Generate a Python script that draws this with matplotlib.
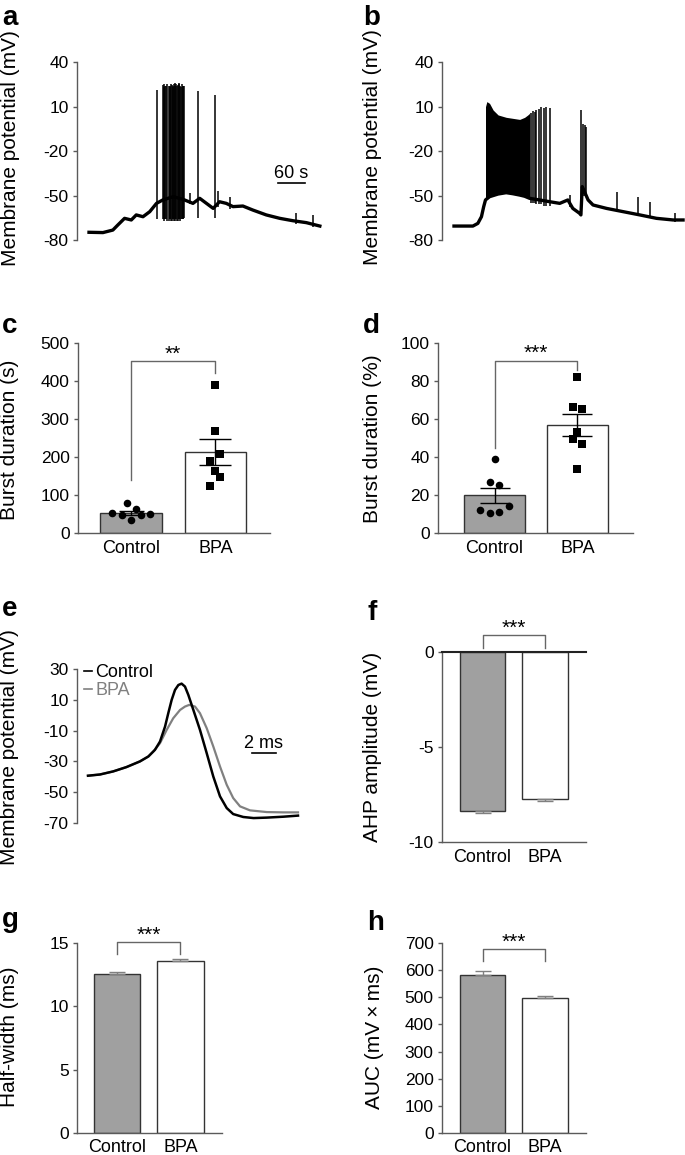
import numpy as np
import matplotlib.pyplot as plt
from matplotlib.lines import Line2D

plt.rcParams['font.family'] = ['Liberation Sans', 'DejaVu Sans']
plt.rcParams['axes.unicode_minus'] = False

# ---------------- data ----------------
# a: control recording (time s, membrane potential mV)
a_base_t = [0, 31, 53, 64, 79, 94, 105, 120, 135, 150, 164, 187, 209, 231, 246,
            261, 276, 290, 305, 320, 342, 364, 394, 424, 453, 483, 513]
a_base_v = [-74.8, -75, -73.3, -69.9, -65.4, -66.5, -63.1, -64.3, -60.9, -55.3,
            -53, -50.8, -52.6, -55.3, -51.9, -55.3, -58.7, -54.2, -55.3, -57.5,
            -57.1, -59.8, -63.1, -65.4, -67, -68.3, -70.6]
a_spike_t = [151, 164, 166, 167, 169, 172, 174, 177, 179, 181, 183, 184, 186,
             187, 189, 190, 192, 194, 196, 198, 200, 201, 203, 205, 206, 208,
             209, 211, 225, 242, 281, 287, 314, 461, 498]
a_spike_top = [21, 24.5, 23, 25, 24, 24, 25, 24, 23, 23.5, 25, 24.5, 24, 23, 25,
               26, 24, 25, 23.5, 24.5, 26, 25, 24, 23, 25.5, 24, 24, 23.5, -48,
               20.5, 18, -47, -51, -62, -63]
a_spike_low = [-66, -66, -66, -67, -66, -66, -67, -67, -66, -66, -67, -67, -66,
               -66, -67, -67, -66, -66, -67, -67, -66, -66, -67, -66, -66, -66,
               -66, -65, -56, -65, -65, -58, -59, -69, -71]

# b: BPA recording
b_base_t = [0, 42, 53, 61, 66, 70, 79, 98, 116, 131, 146, 157, 168, 190, 213,
            235, 253, 264, 279, 282, 285, 290, 298, 309, 339, 376, 413, 450,
            487, 509]
b_base_v = [-70.6, -70.6, -68.8, -64.3, -57.5, -53, -50.8, -49, -48.1, -48.8,
            -49.7, -50.5, -51.9, -53, -54.2, -55.3, -53, -58.7, -62, -63.1,
            -44, -47.4, -53, -56.4, -58.7, -60.9, -63.1, -65.4, -66.5, -66.5]
b_burst_t = [70, 73, 79, 87, 98, 116, 131, 146, 157, 164, 168]
b_burst_up = [9.9, 13.3, 12.1, 7.6, 4.3, 2.7, 2.0, 1.3, 2.7, 4.3, 5.4]
b_burst_low = [-53, -51.5, -50.8, -49.7, -49, -48.1, -48.8, -49.7, -50.5, -51.2, -51.9]
b_spike_t = [172, 176, 179, 183, 188, 194, 199, 205, 213, 257, 282, 287, 291,
             294, 362, 409, 435, 490]
b_spike_top = [5.8, 7.2, 6.5, 7.6, 8.1, 9.4, 8.8, 9.4, 8.8, -49.7, 7.6, -1.8,
               -2.5, -3.6, -47.4, -50.8, -54.2, -62]
b_spike_low = [-55, -55, -55, -56, -56, -56, -57, -57, -57, -58, -63, -50,
               -50, -50, -61, -64, -65, -68]

# c / d: burst duration per cell
groups = ['Control', 'BPA']
c_control = [53, 47, 79, 33, 64, 47, 51]
c_bpa = [390, 268, 209, 190, 163, 148, 125]
d_control = [38.9, 26.6, 25.5, 12, 10.6, 11, 14]
d_bpa = [81.9, 66.5, 65.3, 53.2, 49.6, 47, 33.8]

# e: averaged action potential (time ms, mV)
e_ctrl_t = [0, 1.0, 2.1, 3.2, 4.33, 5.03, 5.58, 6.0, 6.42, 6.69, 6.97, 7.25,
            7.53, 7.8, 8.08, 8.36, 8.78, 9.33, 9.89, 10.44, 11.0, 11.56, 12.1,
            12.94, 13.8, 14.9, 16.3, 17.5]
e_ctrl_v = [-39.3, -38.5, -36.5, -33.7, -30, -26.8, -22.5, -17.1, -7.4, 1.3,
            9.9, 16.4, 19.6, 20.5, 18.6, 13.2, 3.4, -9.5, -24.6, -39.8, -52.7,
            -60.3, -64.2, -66.1, -66.8, -66.5, -65.9, -65.2]
e_bpa_t = [0, 1.0, 2.1, 3.2, 4.33, 5.03, 5.44, 6.0, 6.56, 7.1, 7.67, 8.08,
           8.44, 8.92, 9.33, 9.89, 10.44, 11.0, 11.56, 12.1, 12.67, 13.5, 14.9,
           16.3, 17.5]
e_bpa_v = [-39.3, -38.5, -36.5, -33.7, -30, -26.8, -23.6, -18.2, -9.5, -2,
           3.4, 5.6, 6.7, 5.6, 1.3, -8.4, -20.3, -33.3, -45.2, -53.8, -59.2,
           -61.8, -62.9, -63.1, -63.1]

# f / g / h: mean and SEM
f_mean = [-8.37, -7.72]
f_sem = [0.1, 0.1]
g_mean = [12.53, 13.55]
g_sem = [0.17, 0.15]
h_mean = [581, 497]
h_sem = [15, 8]

# ---------------- layout helpers ----------------
W, H = 685, 1155
fig = plt.figure(figsize=(W / 100, H / 100), dpi=100)

SPINE = '#5a5a5a'
GREY_BAR = '#a0a0a0'
EDGE = '#333333'


def add_ax(left, top, right, bottom):
    return fig.add_axes([left / W, 1 - bottom / H, (right - left) / W, (bottom - top) / H])


def style(ax, bottom=False):
    for s in ['top', 'right']:
        ax.spines[s].set_visible(False)
    ax.spines['bottom'].set_visible(bottom)
    for s in ['left', 'bottom']:
        ax.spines[s].set_color(SPINE)
        ax.spines[s].set_linewidth(1)
    ax.tick_params(axis='y', length=3, width=1, color=SPINE, pad=3, labelsize=12.5)
    ax.tick_params(axis='x', length=0, pad=5, labelsize=13)
    ax.patch.set_alpha(0)
    if not bottom:
        ax.set_xticks([])


def ylabel(x, y, text):
    fig.text(x / W, 1 - y / H, text, rotation=90, ha='center', va='center', fontsize=15)


def letter(x, y, text):
    fig.text(x / W, 1 - y / H, text, ha='left', va='baseline', fontsize=20, fontweight='bold')


def bracket(ax, y_top, y_left, y_right, stars):
    ax.plot([0, 0, 1, 1], [y_left, y_top, y_top, y_right], color='#666666', lw=1,
            clip_on=False)
    ax.annotate(stars, xy=(0.5, y_top), xytext=(0, 1), textcoords='offset points',
                ha='center', va='baseline', fontsize=15, annotation_clip=False)


S_PER_PX = 60 / 27.0

# ---------------- a ----------------
ax = add_ax(77, 62, 327, 240)
style(ax)
x0 = -(89 - 77) * S_PER_PX
ax.set_xlim(x0, x0 + 250 * S_PER_PX)
ax.set_ylim(-80, 40)
ax.set_yticks([40, 10, -20, -50, -80])
ax.plot(a_base_t, a_base_v, color='black', lw=2.4, solid_joinstyle='round')
ax.vlines(a_spike_t, a_spike_low, a_spike_top, color='black', lw=1.1)
ax.plot([420, 480], [-41.8, -41.8], color='black', lw=1.2)
ax.text(450, -35.5, '60 s', ha='center', va='center', fontsize=13)
ylabel(11, 148, 'Membrane potential (mV)')
letter(2, 25, 'a')

# ---------------- b ----------------
ax = add_ax(442, 62, 685, 240)
style(ax)
x0 = -(454 - 442) * S_PER_PX
ax.set_xlim(x0, x0 + 243 * S_PER_PX)
ax.set_ylim(-80, 40)
ax.set_yticks([40, 10, -20, -50, -80])
ax.fill_between(b_burst_t, b_burst_low, b_burst_up, color='black', lw=0)
ax.plot(b_base_t, b_base_v, color='black', lw=2.4, solid_joinstyle='round')
ax.vlines(b_spike_t, b_spike_low, b_spike_top, color='black', lw=1.1)
ylabel(373, 147, 'Membrane potential (mV)')
letter(363, 25, 'b')


# ---------------- c / d ----------------
def scatter_bar(ax, ctrl, bpa, ctrl_dx, bpa_dx, caps):
    vals = [np.array(ctrl), np.array(bpa)]
    means = [v.mean() for v in vals]
    sems = [v.std(ddof=1) / np.sqrt(len(v)) for v in vals]
    ax.bar([0, 1], means, width=0.73, color=[GREY_BAR, 'white'], edgecolor=EDGE,
           lw=1, zorder=1)
    for i in range(2):
        ax.errorbar([i], [means[i]], yerr=[sems[i]], fmt='none', ecolor='black',
                    elinewidth=1, capsize=caps[i], capthick=1, zorder=2)
    ax.scatter(np.array(ctrl_dx), ctrl, s=30, marker='o', color='black', zorder=3,
               lw=0)
    ax.scatter(1 + np.array(bpa_dx), bpa, s=26, marker='s', color='black', zorder=3,
               lw=0)
    ax.set_xticks([0, 1])
    ax.set_xticklabels(groups)


ax = add_ax(78, 343, 270, 533)
style(ax, bottom=True)
scatter_bar(ax, c_control, c_bpa, [-0.23, -0.112, -0.053, 0.006, 0.057, 0.124, 0.23],
            [0, 0, 0.057, -0.061, 0, 0.057, -0.061], [9, 11.4])
ax.set_xlim(-0.627, 1.645)
ax.set_ylim(0, 500)
ax.set_yticks([0, 100, 200, 300, 400, 500])
bracket(ax, 453, 139, 421, '**')
ylabel(10, 440, 'Burst duration (s)')
letter(2, 333, 'c')

ax = add_ax(438, 343, 633, 533)
style(ax, bottom=True)
scatter_bar(ax, d_control, d_bpa, [0, -0.056, 0.056, -0.177, -0.056, 0.056, 0.172],
            [0, -0.054, 0.058, 0, -0.054, 0.058, 0], [10.8, 11])
ax.set_xlim(-0.681, 1.669)
ax.set_ylim(0, 100)
ax.set_yticks([0, 20, 40, 60, 80, 100])
bracket(ax, 90.7, 45, 86, '***')
ylabel(373, 439, 'Burst duration (%)')
letter(363, 333, 'd')

# ---------------- e ----------------
ax = add_ax(77, 669, 300, 823)
style(ax)
x0 = -(88 - 77) / 12.0
ax.set_xlim(x0, x0 + 223 / 12.0)
ax.set_ylim(-70, 30)
ax.set_yticks([30, 10, -10, -30, -50, -70])
ax.plot(e_bpa_t, e_bpa_v, color='#808080', lw=1.6)
ax.plot(e_ctrl_t, e_ctrl_v, color='black', lw=1.8)
ax.plot([13.67, 15.67], [-24.3, -24.3], color='black', lw=1.2)
ax.text(14.6, -18.6, '2 ms', ha='center', va='center', fontsize=13)
handles = [Line2D([], [], color='black', lw=1.2), Line2D([], [], color='#808080', lw=1.2)]
leg = ax.legend(handles, groups, loc='upper left', bbox_to_anchor=(0.03, 1.03),
                frameon=False, handlelength=0.45, handletextpad=0.2, borderpad=0,
                borderaxespad=0, labelspacing=0.05, fontsize=13)
leg.get_texts()[1].set_color('#808080')
ylabel(10, 747, 'Membrane potential (mV)')
letter(2, 616, 'e')


# ---------------- f / g / h ----------------
def mean_bar(ax, means, sems, down=False):
    ax.bar([0, 1], means, width=0.73, color=[GREY_BAR, 'white'], edgecolor=EDGE,
           lw=1, zorder=1)
    if down:
        err = [sems, [0, 0]]
    else:
        err = [[0, 0], sems]
    ax.errorbar([0, 1], means, yerr=err, fmt='none', ecolor='#808080', elinewidth=1,
                capsize=6, capthick=1, zorder=2)
    ax.set_xticks([0, 1])
    ax.set_xticklabels(groups)


ax = add_ax(442, 652, 586, 842)
style(ax, bottom=True)
ax.spines['top'].set_visible(True)
ax.spines['top'].set_color('#222222')
ax.spines['top'].set_linewidth(1.5)
mean_bar(ax, f_mean, f_sem, down=True)
ax.set_xlim(-0.648, 1.656)
ax.set_ylim(-10, 0)
ax.set_yticks([0, -5, -10])
bracket(ax, 0.88, 0.23, 0.23, '***')
ylabel(373, 747, 'AHP amplitude (mV)')
letter(367, 620, 'f')

ax = add_ax(77, 943, 222, 1133)
style(ax, bottom=True)
mean_bar(ax, g_mean, g_sem)
ax.tick_params(axis='x', pad=4)
ax.set_xlim(-0.63, 1.654)
ax.set_ylim(0, 15)
ax.set_yticks([0, 5, 10, 15])
bracket(ax, 15.08, 14.1, 14.1, '***')
ylabel(10, 1037, 'Half-width (ms)')
letter(2, 927, 'g')

ax = add_ax(442, 943, 586, 1133)
style(ax, bottom=True)
mean_bar(ax, h_mean, h_sem)
ax.tick_params(axis='x', pad=4)
ax.set_xlim(-0.648, 1.656)
ax.set_ylim(0, 700)
ax.set_yticks([0, 100, 200, 300, 400, 500, 600, 700])
bracket(ax, 677, 634, 634, '***')
ylabel(375, 1037, 'AUC (mV\u2009×\u2009ms)')
letter(367, 930, 'h')

fig.savefig('out.png', dpi=100)
